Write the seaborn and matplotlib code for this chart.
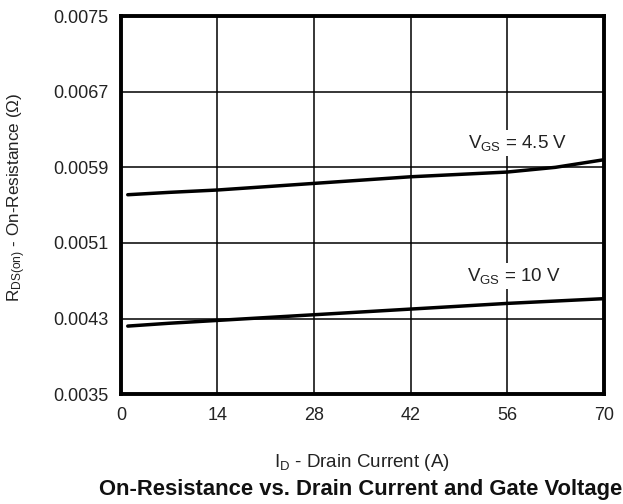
import seaborn as sns
import matplotlib.pyplot as plt
import pandas as pd

# drain current (A) and on-resistance (ohm)
drain_current = [1, 7, 14, 21, 28, 35, 42, 49, 56, 63, 70]
rds_vgs_45 = [0.00561, 0.005635, 0.00566, 0.005695, 0.00573, 0.005765,
              0.00580, 0.005825, 0.00585, 0.00590, 0.00598]
rds_vgs_10 = [0.00422, 0.00425, 0.00428, 0.00431, 0.00434, 0.00437,
              0.00440, 0.00443, 0.00446, 0.004485, 0.00451]
x_ticks = [0, 14, 28, 42, 56, 70]
y_ticks = [0.0035, 0.0043, 0.0051, 0.0059, 0.0067, 0.0075]

df = pd.DataFrame({
    "I": drain_current * 2,
    "R": rds_vgs_45 + rds_vgs_10,
    "VGS": ["4.5"] * len(drain_current) + ["10"] * len(drain_current),
})

sns.set_theme(style="white")
plt.rcParams["font.family"] = ["Liberation Sans", "DejaVu Sans"]
plt.rcParams["mathtext.fontset"] = "custom"
plt.rcParams["mathtext.rm"] = "Liberation Sans"

fig = plt.figure(figsize=(6.23, 5.04), dpi=100)
ax = fig.add_axes([0.194, 0.218, 0.775, 0.750])

sns.lineplot(data=df, x="I", y="R", units="VGS", estimator=None,
             color="black", linewidth=2.5, ax=ax, legend=False)

ax.set_xlim(0, 70)
ax.set_ylim(0.0035, 0.0075)
ax.set_xticks(x_ticks)
ax.set_yticks(y_ticks)
ax.set_xticklabels([str(t) for t in x_ticks])
ax.set_yticklabels([f"{t:.4f}" for t in y_ticks])
ax.grid(True, color="black", linewidth=1.1)
ax.set_axisbelow(True)
for s in ax.spines.values():
    s.set_color("black")
    s.set_linewidth(2.8)
ax.tick_params(length=0, pad=9, labelsize=13, colors="#222222")

txt_kw = dict(fontsize=13.5, color="#222222", ha="center", va="center",
              bbox=dict(facecolor="white", edgecolor="none", pad=2))
ax.text(57.5, 0.00616, r"$\mathregular{V_{GS}}$ = 4.5 V", **txt_kw)
ax.text(57.0, 0.00475, r"$\mathregular{V_{GS}}$ = 10 V", **txt_kw)

ax.set_xlabel(r"$\mathregular{I_D}$ - Drain Current (A)", fontsize=13.5,
              color="#222222", va="center")
ax.xaxis.set_label_coords(0.5, -0.18)
ax.set_ylabel(r"$\mathregular{R_{DS(on)}}$ - On-Resistance ($\Omega$)",
              fontsize=12.3, color="#222222", va="center")
ax.yaxis.set_label_coords(-0.215, 0.52)

fig.text(0.159, 0.028, "On-Resistance vs. Drain Current and Gate Voltage",
         fontsize=15.8, fontweight="bold", color="#111111", ha="left",
         va="center")

fig.savefig("out.png", dpi=100)
